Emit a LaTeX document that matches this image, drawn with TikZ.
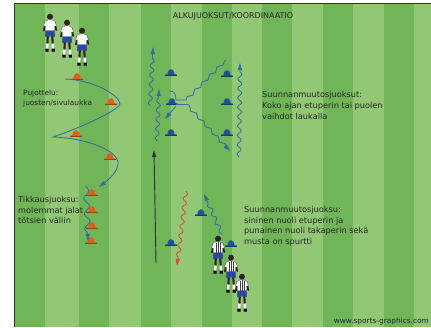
\documentclass[tikz,border=0pt]{standalone}
\usepackage{fontspec}
\setmainfont{DejaVu Sans}
\usepackage{xcolor}
\usepackage{tikz}
\usetikzlibrary{calc,arrows.meta,decorations.pathmorphing}
\definecolor{grassdark}{RGB}{112,181,88}
\definecolor{grasslight}{RGB}{146,199,118}
\definecolor{conered}{RGB}{229,92,28}
\definecolor{coneblue}{RGB}{28,84,150}
\definecolor{runblue}{RGB}{52,108,165}
\definecolor{runred}{RGB}{222,72,52}
\definecolor{skin}{RGB}{45,35,30}
\definecolor{shortblue}{RGB}{35,70,170}
\tikzstyle{txt} = [font=\fontsize{7}{9}\selectfont, text=black!85, align=left, anchor=north west, inner sep=0pt]
\tikzstyle{runline} = [draw=runblue, line width=0.7pt]
\tikzstyle{wave} = [decorate, decoration={snake, amplitude=1.7pt, segment length=8pt, post length=6pt}]
\tikzstyle{runarrow} = [-{Triangle[length=6pt,width=3.5pt]}]
\tikzset{
  pics/cone/.style={code={
    \fill[#1] (-5.8,0.9) -- (-5.8,-0.4) -- (-3.5,-0.9) .. controls (-2.8,-7.5) and (2.8,-7.5) .. (3.5,-0.9) -- (5.8,-0.4) -- (5.8,0.9) -- cycle;
    \fill[#1!70!black] (-5.8,0.9) rectangle (5.8,-0.2);
  }},
  pics/player/.style={code={
    \draw[skin, line width=1.5pt, line cap=round] (-4.6,5) -- (-6,13.5) (4.6,5) -- (6.2,13);
    \draw[skin, line width=1.8pt] (-2.2,19) -- (-2.6,27) (2.2,19) -- (2.8,27);
    \draw[white, line width=2pt] (-2.6,26.5) -- (-2.8,32) (2.8,26.5) -- (3,32);
    \fill[black] (-4.6,31.5) rectangle (-1.4,34.5) (1.6,31.5) rectangle (4.8,34.5);
    \filldraw[fill=shortblue, draw=black!70, line width=0.3pt] (-4.3,13) -- (4.3,13) -- (4.8,19.5) -- (0.6,19.5) -- (0,16.5) -- (-0.6,19.5) -- (-4.8,19.5) -- cycle;
    \filldraw[fill=white, draw=black!60, line width=0.3pt] (-1.8,3) -- (1.8,3) -- (4.8,4.2) -- (6.4,8.5) -- (4.3,9.5) -- (4.3,13.5) -- (-4.3,13.5) -- (-4.3,9.5) -- (-6.4,8.5) -- (-4.8,4.2) -- cycle;
    \fill[skin] (0,-0.3) circle (3);
  }},
  pics/player back/.style={code={
    \pic {player};
    \draw[black!75, line width=0.5pt] (-2.2,3.6) -- (-2.2,13.5) (0,3) -- (0,13.5) (2.2,3.6) -- (2.2,13.5);
  }}
}

\begin{document}
\begin{tikzpicture}[x=0.03cm, y=-0.03cm]
	\useasboundingbox (0,0) rectangle (431,327);
	%场地
	\fill[grassdark] (15,4) rectangle (431,327);
	\foreach \a/\b in {45/79,109/141,171/202,232/262,292/323,353/384,414/431}
		\fill[grasslight] (\a,4) rectangle (\b,327);
	\draw[black!80, line width=1.2pt] (14.5,327) -- (14.5,3.5) -- (431,3.5);
	
	%标志桶
	\foreach \x/\y in {77/79,111/104,76/136,110/159,92/195,92/212,92/228,91/243}
		\pic at (\x,\y) {cone=conered};
	\foreach \x/\y in {171/75,172/104,171/135,227/76,227/104,227/135,201/215,171/245,231/246}
		\pic at (\x,\y) {cone=coneblue};
	
	%跑动路线
	\draw[runline, runarrow] (65,79) .. controls (95,80) and (120,96) .. (120,104) .. controls (119,110) and (80,128) .. (53,137) .. controls (85,138) and (118,150) .. (118,163) .. controls (118,172) and (108,180) .. (99,187);
	\draw[runline, decorate, decoration={snake, amplitude=2.4pt, segment length=13pt, post length=5pt}, runarrow] (86,186) -- (88,241);
	\draw[runline, wave, runarrow] (150,106) -- (153,47);
	\draw[runline, wave, runarrow] (157,141) -- (159,89);
	\draw[runline, wave, runarrow] (239,157) -- (240,63);
	\draw[runline] (170,91) .. controls (174,91) and (176,94) .. (176,100) -- (186,100);
	\draw[runline] (176,104) -- (186,104);
	\draw[runline, decorate, decoration={snake, amplitude=1.3pt, segment length=9pt}] (186,100) -- (226,60);
	\draw[runline, decorate, decoration={snake, amplitude=1.3pt, segment length=9pt, post length=4pt}, runarrow] (186,104) -- (230,151);
	\draw[runline, runarrow] (176,106) -- (165,119);
	\draw[draw=runred, line width=0.7pt, wave, runarrow] (186,191) -- (177,266);
	\draw[runline, wave, runarrow] (222,234) -- (204,194);
	\draw[black!80, line width=0.8pt, runarrow] (156,263) -- (154,150);
	
	%球员
	\pic at (50,17) {player};
	\pic at (67,23) {player};
	\pic at (82,31) {player};
	\pic at (218,239) {player back};
	\pic at (231,258) {player back};
	\pic at (242,277) {player back};
	
	%文字
	\node (title) [txt, anchor=north, font=\fontsize{6.8}{8}\selectfont] at (233,12) {ALKUJUOKSUT/KOORDINAATIO};
	\node (pujo) [txt, font=\fontsize{6.3}{8.5}\selectfont] at (23,90) {Pujottelu:\\juosten/sivulaukka};
	\node (suunta) [txt, font=\fontsize{7}{9.4}\selectfont] at (262,91) {Suunnanmuutosjuoksut:\\Koko ajan etuperin tai puolen\\vaihdot laukalla};
	\node (tikkaus) [txt] at (18,196) {Tikkausjuoksu:\\molemmat jalat\\tötsien väliin};
	\node (spurtti) [txt] at (244,206) {Suunnanmuutosjuoksu:\\sininen nuoli etuperin ja\\punainen nuoli takaperin sekä\\musta on spurtti};
	\node (www) [txt, anchor=north east, font=\fontsize{6.3}{8}\selectfont] at (429,318) {www.sports-graphics.com};
\end{tikzpicture}
\end{document}
